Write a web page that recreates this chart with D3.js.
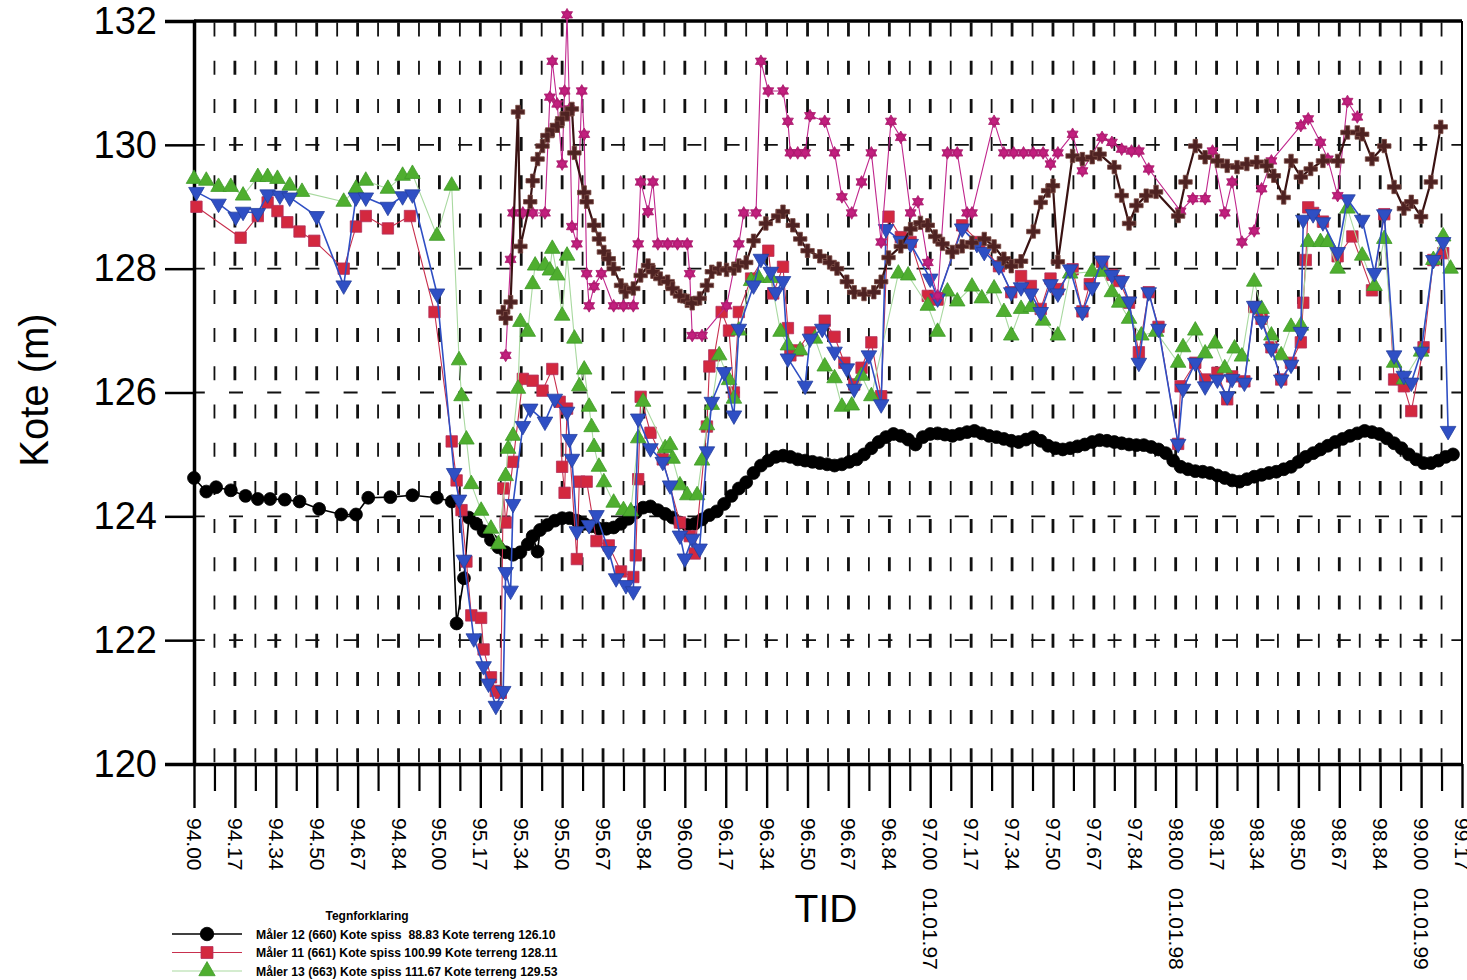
<!DOCTYPE html>
<html>
<head>
<meta charset="utf-8">
<script src="https://cdn.jsdelivr.net/npm/d3@7"></script>
<style>
  body { margin: 0; background: #ffffff; }
  svg { display: block; font-family: "Liberation Sans", Arial, sans-serif; }
</style>
</head>
<body>
<svg id="chart" width="1467" height="980"></svg>
<script>
// ---- axis definitions ----
const yTickValues = [120, 122, 124, 126, 128, 130, 132];
const xTickLabels = ["94.00","94.17","94.34","94.50","94.67","94.84","95.00","95.17","95.34","95.50",
  "95.67","95.84","96.00","96.17","96.34","96.50","96.67","96.84","97.00   01.01.97","97.17",
  "97.34","97.50","97.67","97.84","98.00   01.01.98","98.17","98.34","98.50","98.67","98.84",
  "99.00   01.01.99","99.17"];

// ---- series: [decimal year, kote (m)] ----
const maaler12 = [
  [94.00,124.62],[94.05,124.40],[94.09,124.47],[94.15,124.42],[94.21,124.33],[94.26,124.28],[94.31,124.28],
  [94.37,124.27],[94.43,124.24],[94.51,124.12],[94.60,124.03],[94.66,124.03],[94.71,124.30],[94.80,124.31],
  [94.89,124.34],[94.99,124.30],[95.05,124.24],[95.07,122.27],[95.10,123.00],[95.12,123.98],[95.15,123.88],
  [95.18,123.76],[95.21,123.62],[95.24,123.50],[95.27,123.42],[95.30,123.38],[95.33,123.42],[95.36,123.55],
  [95.38,123.68],[95.40,123.43],[95.41,123.78],[95.44,123.86],[95.47,123.93],[95.50,123.97],[95.53,123.97],
  [95.56,123.93],[95.59,123.88],[95.62,123.84],[95.65,123.80],[95.68,123.80],[95.71,123.82],[95.74,123.88],
  [95.77,123.96],[95.80,124.06],[95.83,124.14],[95.86,124.16],[95.89,124.10],[95.92,124.04],[95.95,123.98],
  [95.98,123.90],[96.01,123.86],[96.04,123.88],[96.07,123.95],[96.10,124.02],[96.13,124.08],[96.16,124.20],
  [96.19,124.33],[96.22,124.45],[96.25,124.55],[96.28,124.70],[96.31,124.82],[96.34,124.90],[96.37,124.96],
  [96.40,124.98],[96.43,124.96],[96.46,124.92],[96.49,124.90],[96.52,124.88],[96.55,124.86],[96.58,124.84],
  [96.61,124.82],[96.64,124.84],[96.67,124.88],[96.70,124.92],[96.73,125.00],[96.76,125.10],[96.79,125.20],
  [96.82,125.28],[96.85,125.33],[96.88,125.30],[96.91,125.24],[96.94,125.16],[96.97,125.28],[97.00,125.33],
  [97.03,125.34],[97.06,125.32],[97.09,125.30],[97.12,125.33],[97.15,125.36],[97.18,125.38],[97.21,125.34],
  [97.24,125.30],[97.27,125.28],[97.30,125.25],[97.33,125.22],[97.36,125.20],[97.39,125.24],[97.42,125.28],
  [97.45,125.22],[97.48,125.14],[97.51,125.10],[97.54,125.08],[97.57,125.10],[97.60,125.13],[97.63,125.16],
  [97.66,125.20],[97.69,125.23],[97.72,125.22],[97.75,125.20],[97.78,125.18],[97.81,125.16],[97.84,125.15],
  [97.87,125.15],[97.90,125.12],[97.93,125.08],[97.96,125.02],[97.99,124.90],[98.02,124.80],[98.05,124.76],
  [98.08,124.73],[98.11,124.72],[98.14,124.70],[98.17,124.66],[98.20,124.62],[98.23,124.58],[98.26,124.56],
  [98.29,124.60],[98.32,124.64],[98.35,124.67],[98.38,124.70],[98.41,124.72],[98.44,124.76],[98.47,124.80],
  [98.50,124.88],[98.53,124.96],[98.56,125.02],[98.59,125.08],[98.62,125.14],[98.65,125.20],[98.68,125.25],
  [98.71,125.30],[98.74,125.34],[98.77,125.38],[98.80,125.36],[98.83,125.33],[98.86,125.26],[98.89,125.18],
  [98.92,125.10],[98.95,125.00],[98.98,124.92],[99.01,124.86],[99.04,124.86],[99.07,124.90],[99.10,124.96],
  [99.13,125.00]
];

const maaler11 = [
  [94.01,129.00],[94.19,128.50],[94.26,128.85],[94.30,129.07],[94.34,128.93],[94.38,128.75],[94.43,128.60],
  [94.49,128.45],[94.61,128.00],[94.66,128.68],[94.70,128.85],[94.79,128.65],[94.88,128.85],[94.98,127.30],
  [95.05,125.21],[95.07,124.58],[95.09,124.10],[95.11,123.27],[95.13,122.40],[95.17,122.36],[95.18,121.85],
  [95.21,121.40],[95.23,121.18],[95.25,121.15],[95.26,124.45],[95.27,123.90],[95.30,124.88],[95.34,126.22],
  [95.38,126.19],[95.42,126.03],[95.46,126.38],[95.49,125.85],[95.50,124.80],[95.51,124.38],[95.52,125.74],
  [95.56,123.31],[95.57,124.56],[95.60,124.56],[95.64,123.60],[95.69,123.53],[95.74,123.11],[95.79,123.02],
  [95.80,123.37],[95.81,124.60],[95.82,125.93],[95.86,125.35],[95.91,124.92],[95.98,123.90],[96.02,123.68],
  [96.04,123.40],[96.09,125.45],[96.10,126.42],[96.12,126.60],[96.15,127.30],[96.18,127.00],[96.20,126.00],
  [96.22,127.30],[96.27,127.84],[96.34,128.29],[96.36,127.60],[96.40,128.03],[96.42,127.04],[96.43,126.60],
  [96.46,126.68],[96.51,126.97],[96.57,127.16],[96.61,126.90],[96.65,126.48],[96.69,126.13],[96.72,126.40],
  [96.76,126.81],[96.80,125.94],[96.83,128.84],[96.88,128.51],[96.92,128.43],[96.99,127.56],[97.03,127.50],
  [97.13,128.70],[97.20,128.43],[97.28,128.04],[97.33,127.62],[97.37,127.88],[97.41,127.72],[97.45,127.35],
  [97.49,127.84],[97.52,127.67],[97.58,127.99],[97.62,127.31],[97.65,127.75],[97.70,128.11],[97.74,127.90],
  [97.77,127.80],[97.81,127.45],[97.85,126.65],[97.89,127.62],[97.93,127.06],[98.01,125.17],[98.02,126.10],
  [98.08,126.48],[98.12,126.21],[98.17,126.32],[98.21,125.89],[98.23,126.26],[98.28,126.18],[98.32,127.38],
  [98.35,127.19],[98.39,126.73],[98.43,126.21],[98.47,126.48],[98.51,126.81],[98.52,127.45],[98.53,128.14],
  [98.54,128.99],[98.56,128.90],[98.60,128.76],[98.66,128.20],[98.72,128.52],[98.80,127.65],[98.85,128.88],
  [98.89,126.21],[98.93,126.10],[98.96,125.70],[99.01,126.73],[99.05,128.14],[99.09,128.25]
];

const maaler13 = [
  [94.00,129.45],[94.05,129.42],[94.10,129.32],[94.15,129.32],[94.20,129.18],[94.26,129.48],[94.30,129.48],
  [94.34,129.45],[94.39,129.34],[94.44,129.24],[94.61,129.08],[94.66,129.29],[94.70,129.42],[94.79,129.29],
  [94.85,129.50],[94.89,129.53],[94.99,128.53],[95.05,129.34],[95.08,126.52],[95.09,125.94],[95.11,125.24],
  [95.13,124.52],[95.17,124.09],[95.21,123.80],[95.24,123.55],[95.27,124.65],[95.28,125.09],[95.30,125.30],
  [95.32,126.06],[95.33,127.14],[95.36,126.98],[95.38,127.75],[95.39,128.05],[95.43,128.05],[95.45,127.97],
  [95.46,128.32],[95.48,127.89],[95.50,127.24],[95.52,128.21],[95.55,126.87],[95.57,126.10],[95.59,126.37],
  [95.61,125.77],[95.62,125.44],[95.63,125.12],[95.65,124.80],[95.67,124.55],[95.71,124.22],[95.75,124.10],
  [95.78,124.08],[95.81,125.26],[95.83,125.85],[95.92,125.10],[95.94,125.15],[95.95,124.93],[95.98,124.50],
  [96.01,124.34],[96.05,124.34],[96.07,124.90],[96.09,125.47],[96.11,125.80],[96.14,126.60],[96.18,126.20],
  [96.20,125.90],[96.22,127.00],[96.27,127.80],[96.30,127.85],[96.35,127.85],[96.39,126.98],[96.42,126.76],
  [96.47,126.68],[96.53,126.87],[96.57,126.42],[96.61,126.23],[96.64,125.77],[96.68,125.79],[96.72,126.27],
  [96.76,125.94],[96.87,127.92],[96.91,127.89],[96.99,127.40],[97.03,126.98],[97.07,127.63],[97.11,127.47],
  [97.17,127.71],[97.21,127.52],[97.26,127.68],[97.30,127.30],[97.33,126.92],[97.37,127.35],[97.41,127.38],
  [97.46,127.16],[97.52,126.92],[97.57,127.92],[97.66,127.95],[97.70,127.95],[97.74,127.62],[97.77,127.45],
  [97.81,127.19],[97.86,126.92],[97.92,126.98],[98.01,126.48],[98.03,126.73],[98.08,127.00],[98.12,126.63],
  [98.16,126.79],[98.20,126.39],[98.24,126.71],[98.27,126.58],[98.32,127.79],[98.35,127.35],[98.39,126.92],
  [98.43,126.60],[98.47,127.06],[98.51,127.08],[98.54,128.43],[98.59,128.43],[98.62,128.43],[98.66,128.00],
  [98.70,128.97],[98.76,128.21],[98.81,127.72],[98.85,128.48],[98.89,126.48],[98.93,126.21],[99.00,126.66],
  [99.05,128.14],[99.09,128.52],[99.12,128.00]
];

const blueGauge = [
  [94.01,129.24],[94.10,129.05],[94.17,128.84],[94.20,128.92],[94.26,128.90],[94.30,129.20],[94.35,129.18],
  [94.39,129.15],[94.50,128.85],[94.61,127.73],[94.66,129.15],[94.70,129.15],[94.79,129.00],[94.85,129.17],
  [94.89,129.20],[94.99,127.60],[95.06,124.70],[95.08,124.27],[95.10,123.30],[95.14,122.03],[95.18,121.58],
  [95.20,121.30],[95.23,120.94],[95.26,121.18],[95.27,123.10],[95.29,122.80],[95.30,124.20],[95.34,125.46],
  [95.37,125.74],[95.43,125.53],[95.47,125.90],[95.52,125.69],[95.53,125.25],[95.54,124.93],[95.56,123.76],
  [95.61,123.86],[95.64,124.02],[95.69,123.44],[95.72,123.00],[95.76,122.89],[95.79,122.79],[95.81,125.58],
  [95.86,125.10],[95.91,124.88],[95.94,124.50],[95.98,123.69],[96.00,123.32],[96.03,123.64],[96.06,123.48],
  [96.09,125.05],[96.11,125.85],[96.16,126.33],[96.20,125.63],[96.22,127.03],[96.28,127.73],[96.31,128.16],
  [96.35,127.95],[96.37,127.62],[96.40,127.80],[96.42,126.55],[96.49,126.11],[96.51,126.87],[96.56,127.03],
  [96.61,126.66],[96.66,126.39],[96.69,126.06],[96.75,126.60],[96.80,125.81],[96.82,128.64],[96.88,128.45],
  [96.92,128.40],[97.00,127.84],[97.03,127.52],[97.13,128.65],[97.19,128.40],[97.22,128.27],[97.28,128.04],
  [97.33,127.62],[97.37,127.70],[97.41,127.60],[97.45,127.30],[97.49,127.75],[97.52,127.60],[97.57,127.99],
  [97.62,127.30],[97.66,127.70],[97.70,128.13],[97.74,127.90],[97.78,127.80],[97.81,127.47],[97.85,126.48],
  [97.89,127.62],[97.93,127.03],[98.01,125.17],[98.03,126.06],[98.08,126.48],[98.12,126.10],[98.17,126.21],
  [98.21,125.94],[98.23,126.22],[98.28,126.16],[98.32,127.40],[98.35,127.16],[98.39,126.71],[98.43,126.21],
  [98.47,126.45],[98.51,126.98],[98.52,128.79],[98.56,128.88],[98.60,128.75],[98.66,128.27],[98.70,129.12],
  [98.76,128.79],[98.81,127.93],[98.85,128.88],[98.89,126.60],[98.93,126.27],[98.96,126.16],[99.00,126.66],
  [99.05,128.14],[99.09,128.43],[99.11,125.38]
];

const magentaGauge = [
  [95.27,126.60],[95.29,128.15],[95.30,128.90],[95.34,128.90],[95.38,128.90],[95.43,128.90],[95.45,130.77],
  [95.46,131.35],[95.48,130.66],[95.50,129.69],[95.51,130.87],[95.52,132.10],[95.53,130.58],[95.54,128.68],
  [95.56,128.40],[95.58,130.87],[95.59,130.17],[95.60,127.92],[95.61,127.40],[95.63,127.71],[95.66,127.92],
  [95.71,127.40],[95.75,127.40],[95.79,127.40],[95.81,128.40],[95.82,129.40],[95.85,128.92],[95.87,129.40],
  [95.89,128.40],[95.93,128.40],[95.97,128.40],[96.01,128.40],[96.02,127.92],[96.03,126.92],[96.07,126.92],
  [96.17,127.40],[96.22,128.40],[96.24,128.90],[96.29,128.90],[96.31,131.35],[96.34,130.87],[96.40,130.87],
  [96.42,130.38],[96.43,129.87],[96.46,129.87],[96.49,129.87],[96.51,130.47],[96.57,130.38],[96.61,129.87],
  [96.64,129.16],[96.68,128.90],[96.72,129.40],[96.76,129.87],[96.80,128.43],[96.84,130.38],[96.88,130.12],
  [96.92,128.90],[96.95,129.08],[96.99,128.10],[97.03,127.56],[97.07,129.87],[97.11,129.87],[97.15,128.90],
  [97.17,128.90],[97.26,130.38],[97.30,129.87],[97.34,129.87],[97.38,129.87],[97.42,129.87],[97.46,129.87],
  [97.49,129.69],[97.52,129.87],[97.58,130.17],[97.62,129.58],[97.70,130.12],[97.74,130.04],[97.78,129.93],
  [97.82,129.90],[97.85,129.90],[97.89,129.61],[98.02,128.93],[98.07,129.13],[98.12,129.13],[98.15,129.90],
  [98.20,128.90],[98.23,129.40],[98.27,128.43],[98.32,128.61],[98.35,129.29],[98.39,129.74],[98.51,130.31],
  [98.54,130.42],[98.59,130.04],[98.62,129.77],[98.66,129.18],[98.70,130.70],[98.74,130.45]
];

const brownGauge = [
  [95.26,127.30],[95.27,127.20],[95.29,127.46],[95.32,130.53],[95.33,128.36],[95.37,129.08],[95.38,129.42],
  [95.40,129.77],[95.42,129.98],[95.44,130.15],[95.46,130.24],[95.48,130.31],[95.50,130.42],[95.52,130.50],
  [95.54,130.58],[95.55,129.87],[95.59,129.23],[95.60,129.08],[95.63,128.70],[95.65,128.48],[95.67,128.27],
  [95.69,128.16],[95.71,128.00],[95.74,127.73],[95.76,127.63],[95.79,127.68],[95.82,127.89],[95.85,128.05],
  [95.87,127.95],[95.90,127.84],[95.93,127.79],[95.95,127.68],[95.98,127.56],[96.01,127.48],[96.03,127.44],
  [96.06,127.52],[96.09,127.73],[96.11,127.95],[96.14,128.00],[96.17,127.98],[96.20,128.00],[96.22,128.05],
  [96.25,128.10],[96.28,128.45],[96.33,128.73],[96.38,128.85],[96.40,128.92],[96.44,128.70],[96.47,128.48],
  [96.50,128.29],[96.55,128.20],[96.59,128.10],[96.62,128.00],[96.66,127.79],[96.69,127.62],[96.73,127.59],
  [96.77,127.62],[96.80,127.79],[96.83,128.18],[96.88,128.36],[96.92,128.64],[96.96,128.74],[96.99,128.70],
  [97.02,128.52],[97.05,128.40],[97.09,128.27],[97.13,128.36],[97.17,128.42],[97.22,128.48],[97.26,128.36],
  [97.30,128.16],[97.33,128.04],[97.37,128.12],[97.42,128.60],[97.45,129.07],[97.48,129.26],[97.50,129.34],
  [97.52,128.11],[97.58,129.82],[97.62,129.77],[97.66,129.80],[97.69,129.85],[97.75,129.64],[97.78,129.18],
  [97.81,128.73],[97.84,129.02],[97.88,129.18],[97.92,129.24],[98.01,128.85],[98.04,129.40],[98.08,129.98],
  [98.12,129.80],[98.17,129.74],[98.21,129.66],[98.25,129.64],[98.29,129.69],[98.33,129.72],[98.37,129.66],
  [98.40,129.50],[98.44,129.15],[98.47,129.74],[98.51,129.48],[98.55,129.61],[98.60,129.74],[98.66,129.74],
  [98.70,130.20],[98.74,130.20],[98.76,130.17],[98.80,129.77],[98.85,129.98],[98.89,129.32],[98.93,128.97],
  [98.96,129.08],[99.00,128.84],[99.04,129.40],[99.08,130.29]
];

const legendTitle = "Tegnforklaring";
const legendLabels = [
  "Måler 12 (660) Kote spiss  88.83 Kote terreng 126.10",
  "Måler 11 (661) Kote spiss 100.99 Kote terreng 128.11",
  "Måler 13 (663) Kote spiss 111.67 Kote terreng 129.53"
];

// ---- layout ----
const svg = d3.select("#chart");
const plot = { left: 194, right: 1462, top: 21, bottom: 764 };
const xStart = 94, xEnd = 94 + 31 / 6;

const x = d3.scaleLinear().domain([xStart, xEnd]).range([plot.left, plot.right]);
const y = d3.scaleLinear().domain([120, 132]).range([plot.bottom, plot.top]);

const months = d3.range(0, 63).map(k => xStart + k / 12);
const majorTicks = d3.range(0, 32).map(k => xStart + k / 6);

// hexagram marker used for one of the gauges
const symbolHexagram = {
  draw(ctx, size) {
    const r = Math.sqrt(size) * 0.62;
    for (const start of [-90, 90]) {
      for (let i = 0; i < 3; i++) {
        const a = (start + i * 120) * Math.PI / 180;
        const px = r * Math.cos(a), py = r * Math.sin(a);
        if (i === 0) ctx.moveTo(px, py); else ctx.lineTo(px, py);
      }
      ctx.closePath();
    }
  }
};

// ---- grid ----
const grid = svg.append("g").attr("class", "grid");
grid.selectAll("line.vgrid")
  .data(months.slice(1, 62))
  .join("line")
  .attr("class", "vgrid")
  .attr("x1", d => x(d)).attr("x2", d => x(d))
  .attr("y1", plot.top + 1.5).attr("y2", plot.bottom)
  .attr("stroke", "#111")
  .attr("stroke-width", (d, i) => (i % 2 === 1 ? 2.8 : 1.8))
  .attr("stroke-dasharray", "14 24.2");

grid.selectAll("line.hgrid")
  .data([122, 124, 126, 128, 130])
  .join("line")
  .attr("class", "hgrid")
  .attr("x1", plot.left).attr("x2", plot.right)
  .attr("y1", d => y(d)).attr("y2", d => y(d))
  .attr("stroke", "#111")
  .attr("stroke-width", 1.8)
  .attr("stroke-dasharray", "14 24.2")
  .attr("stroke-dashoffset", 3.2);

// ---- frame ----
svg.append("line")
  .attr("x1", plot.left).attr("x2", plot.right)
  .attr("y1", plot.top).attr("y2", plot.top)
  .attr("stroke", "#000").attr("stroke-width", 3.5);
svg.append("line")
  .attr("x1", plot.right).attr("x2", plot.right)
  .attr("y1", plot.top).attr("y2", plot.bottom)
  .attr("stroke", "#000").attr("stroke-width", 2);

// ---- axes ----
const yAxis = svg.append("g")
  .attr("transform", `translate(${plot.left},0)`)
  .call(d3.axisLeft(y).tickValues(yTickValues).tickSize(29).tickPadding(8).tickFormat(d3.format("d")));
yAxis.select(".domain").attr("stroke-width", 3.5);
yAxis.selectAll(".tick line").attr("stroke-width", 2.5);
yAxis.selectAll(".tick text")
  .attr("font-size", 38).attr("fill", "#000")
  .attr("font-family", "Liberation Sans, Arial, sans-serif");

const xMinor = svg.append("g")
  .attr("transform", `translate(0,${plot.bottom})`)
  .call(d3.axisBottom(x).tickValues(months.filter((d, i) => i % 2 === 1)).tickSize(27).tickFormat(""));
xMinor.select(".domain").remove();
xMinor.selectAll(".tick line").attr("stroke-width", 2.2);

const xAxis = svg.append("g")
  .attr("transform", `translate(0,${plot.bottom})`)
  .call(d3.axisBottom(x).tickValues(majorTicks).tickSize(44).tickSizeOuter(0)
    .tickFormat((d, i) => xTickLabels[i]));
xAxis.select(".domain").attr("stroke-width", 3.5);
xAxis.selectAll(".tick line").attr("stroke-width", 2.4);
xAxis.selectAll(".tick text")
  .attr("font-size", 21).attr("fill", "#000")
  .attr("font-family", "Liberation Sans, Arial, sans-serif")
  .style("white-space", "pre")
  .attr("text-anchor", "start")
  .attr("dy", null)
  .attr("y", null)
  .attr("transform", "translate(0,54) rotate(90)")
  .attr("dominant-baseline", "central");

// ---- axis titles ----
svg.append("text")
  .attr("transform", "translate(48,390) rotate(-90)")
  .attr("text-anchor", "middle")
  .attr("font-size", 40)
  .text("Kote (m)");

svg.append("text")
  .attr("x", 826).attr("y", 922)
  .attr("text-anchor", "middle")
  .attr("font-size", 39)
  .text("TID");

// ---- series ----
const series = [
  { data: maaler12, line: "#000000", lineWidth: 1.6, fill: "#000000", stroke: "#000000", symbol: d3.symbolCircle, size: 130, rotate: 0 },
  { data: maaler11, line: "#c8304e", lineWidth: 1.1, fill: "#d3283f", stroke: "#b2305c", symbol: d3.symbolSquare, size: 130, rotate: 0 },
  { data: maaler13, line: "#a9d9a0", lineWidth: 1.1, fill: "#4fae2f", stroke: "#3f9a28", symbol: d3.symbolTriangle, size: 105, rotate: 0 },
  { data: blueGauge, line: "#2f4fc4", lineWidth: 1.6, fill: "#2f4fc4", stroke: "#26409e", symbol: d3.symbolTriangle, size: 105, rotate: 180 },
  { data: magentaGauge, line: "#c0268c", lineWidth: 1.1, fill: "#c21f7e", stroke: "#a81a6c", symbol: symbolHexagram, size: 105, rotate: 0 },
  { data: brownGauge, line: "#3a1212", lineWidth: 2.2, fill: "#4e2222", stroke: "#7a4a42", symbol: d3.symbolCross, size: 100, rotate: 0 }
];

const lineGen = d3.line().x(d => x(d[0])).y(d => y(d[1]));
const seriesLayer = svg.append("g");
series.forEach(s => {
  const g = seriesLayer.append("g");
  g.append("path")
    .datum(s.data)
    .attr("d", lineGen)
    .attr("fill", "none")
    .attr("stroke", s.line)
    .attr("stroke-width", s.lineWidth)
    .attr("stroke-linejoin", "round");
  g.selectAll("path.marker")
    .data(s.data)
    .join("path")
    .attr("class", "marker")
    .attr("d", d3.symbol().type(s.symbol).size(s.size))
    .attr("transform", d => `translate(${x(d[0])},${y(d[1])}) rotate(${s.rotate})`)
    .attr("fill", s.fill)
    .attr("stroke", s.stroke)
    .attr("stroke-width", 0.8);
});

// ---- legend ----
const legend = svg.append("g").attr("font-weight", "bold");
legend.append("text")
  .attr("x", 367).attr("y", 920)
  .attr("text-anchor", "middle")
  .attr("font-size", 12)
  .text(legendTitle);
const legendRows = legend.selectAll("g.row")
  .data(legendLabels.map((label, i) => ({ label, s: series[i] })))
  .join("g")
  .attr("class", "row")
  .attr("transform", (d, i) => `translate(0,${934 + i * 18.5})`);
legendRows.append("line")
  .attr("x1", 172).attr("x2", 242)
  .attr("stroke", d => d.s.line)
  .attr("stroke-width", d => d.s.lineWidth);
legendRows.append("path")
  .attr("d", d => d3.symbol().type(d.s.symbol).size(d.s.size * 1.1)())
  .attr("transform", d => `translate(207,0) rotate(${d.s.rotate})`)
  .attr("fill", d => d.s.fill)
  .attr("stroke", d => d.s.stroke)
  .attr("stroke-width", 0.8);
legendRows.append("text")
  .attr("x", 256).attr("y", 4.5)
  .attr("font-size", 12.2)
  .style("white-space", "pre")
  .text(d => d.label);
</script>
</body>
</html>
